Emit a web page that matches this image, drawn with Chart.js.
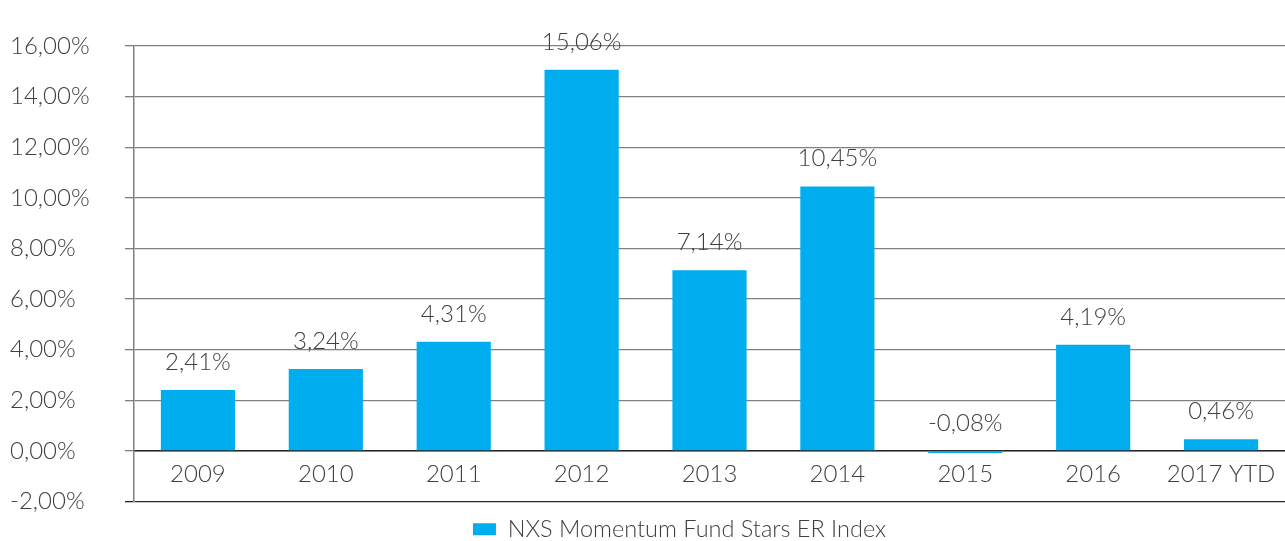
<!DOCTYPE html>
<html>
<head>
<meta charset="utf-8">
<script src="https://cdn.jsdelivr.net/npm/chart.js@4"></script>
<style>
    html, body { margin: 0; padding: 0; background: #fff; }
    #wrap { width: 1285px; height: 541px; position: relative; }
</style>
</head>
<body>
<div id="wrap"><canvas id="chart"></canvas></div>
<script>
const categories = ['2009', '2010', '2011', '2012', '2013', '2014', '2015', '2016', '2017 YTD'];
const indexReturns = [2.41, 3.24, 4.31, 15.06, 7.14, 10.45, -0.08, 4.19, 0.46];
const seriesName = 'NXS Momentum Fund Stars ER Index';
const yTicks = [-2, 0, 2, 4, 6, 8, 10, 12, 14, 16];

const fontFamily = 'Lato, "Open Sans", sans-serif';
const textColor = '#404040';
const barColor = '#00aeef';

function fmtPct(v) {
    return v.toFixed(2).replace('.', ',') + '%';
}

// values over the bars
const valueLabels = {
    id: 'valueLabels',
    afterDatasetsDraw(chart) {
        const ctx = chart.ctx,
            meta = chart.getDatasetMeta(0),
            yScale = chart.scales.y;

        ctx.save();
        ctx.font = `300 24px ${fontFamily}`;
        ctx.fillStyle = textColor;
        ctx.textAlign = 'center';
        ctx.textBaseline = 'middle';
        meta.data.forEach((bar, i) => {
            const v = indexReturns[i],
                top = v >= 0 ? bar.y : yScale.getPixelForValue(0);
            ctx.fillText(fmtPct(v), bar.x, top - 28);
        });
        ctx.restore();
    }
};

// legend sits a bit right of centre and lower in the original
const legendShift = {
    id: 'legendShift',
    afterLayout(chart) {
        const lg = chart.legend;
        lg.left += 32;
        lg.right += 32;
        lg.top += 10;
        lg.bottom += 10;
    }
};

new Chart(document.getElementById('chart'), {
    type: 'bar',
    data: {
        labels: categories,
        datasets: [{
            label: seriesName,
            data: indexReturns,
            backgroundColor: barColor,
            borderWidth: 0,
            categoryPercentage: 1,
            barPercentage: 0.58
        }]
    },
    options: {
        responsive: true,
        maintainAspectRatio: false,
        animation: false,
        layout: {
            padding: {top: 46, left: 10, right: 0, bottom: 0}
        },
        plugins: {
            legend: {
                position: 'bottom',
                labels: {
                    boxWidth: 23,
                    boxHeight: 12,
                    color: textColor,
                    padding: 6,
                    font: {family: fontFamily, size: 23.5, weight: '300'}
                }
            },
            tooltip: {enabled: false}
        },
        scales: {
            x: {
                position: {y: 0},
                grid: {display: false},
                border: {display: true, color: '#262626', width: 1.5},
                ticks: {
                    color: textColor,
                    padding: 1,
                    font: {family: fontFamily, size: 24, weight: '300'}
                }
            },
            y: {
                min: -2,
                max: 16,
                afterBuildTicks(axis) {
                    axis.ticks = yTicks.map(v => ({value: v}));
                },
                afterFit(axis) {
                    axis.width = 124;
                },
                grid: {
                    color: c => (c.tick && c.tick.value === -2 ? '#262626' : '#808080'),
                    lineWidth: 1.3,
                    tickLength: 9
                },
                border: {display: true, color: '#808080', width: 1.5},
                ticks: {
                    crossAlign: 'far',
                    color: textColor,
                    font: {family: fontFamily, size: 24, weight: '300'},
                    callback: v => fmtPct(v)
                }
            }
        }
    },
    plugins: [valueLabels, legendShift]
});
</script>
</body>
</html>
